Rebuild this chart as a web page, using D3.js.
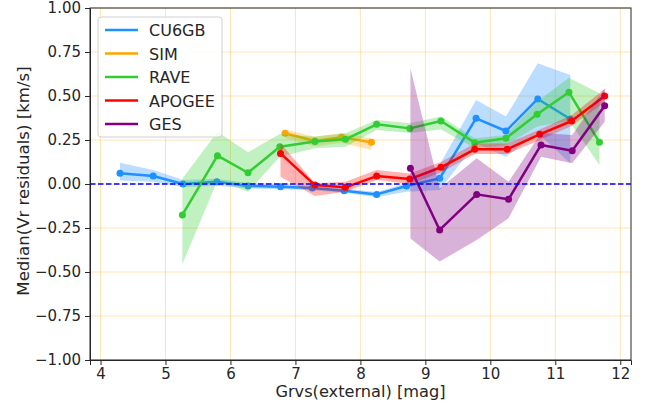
<!DOCTYPE html>
<html>
<head>
<meta charset="utf-8">
<script src="https://cdn.jsdelivr.net/npm/d3@7"></script>
<style>
  body { margin: 0; background: #fff; }
  text { font-family: "DejaVu Sans", sans-serif; fill: #262626; }
  .axis text { font-size: 15px; }
  .axis path, .axis line { stroke: #262626; stroke-width: 1px; }
  .grid line { stroke: #ffa500; stroke-opacity: 0.3; stroke-width: 1px; }
</style>
</head>
<body>
<div id="chart"></div>
<script>
'use strict';

// tick values
var xTicks = [ 4, 5, 6, 7, 8, 9, 10, 11, 12 ];
var yTicks = [ -1, -0.75, -0.5, -0.25, 0, 0.25, 0.5, 0.75, 1 ];

// CU6GB
var cuX   = [ 4.30, 4.81, 5.27, 5.79, 6.27, 6.77, 7.26, 7.75, 8.25, 8.71, 9.22, 9.78, 10.24, 10.73, 11.23 ];
var cuMed = [ 0.061, 0.045, 0.000, 0.013, -0.011, -0.015, -0.023, -0.038, -0.059, -0.011, 0.032, 0.373, 0.301, 0.483, 0.369 ];
var cuLo  = [ 0.020, 0.013, -0.017, -0.010, -0.025, -0.030, -0.035, -0.050, -0.075, -0.044, -0.034, 0.231, 0.155, 0.290, 0.118 ];
var cuHi  = [ 0.121, 0.080, 0.023, 0.030, 0.005, 0.000, -0.010, -0.025, -0.045, 0.004, 0.110, 0.477, 0.383, 0.686, 0.620 ];

// SIM
var simX   = [ 6.84, 7.30, 7.71, 8.17 ];
var simMed = [ 0.288, 0.244, 0.265, 0.237 ];
var simLo  = [ 0.262, 0.215, 0.235, 0.193 ];
var simHi  = [ 0.310, 0.270, 0.290, 0.260 ];

// RAVE
var rvX   = [ 5.26, 5.80, 6.27, 6.76, 7.30, 7.77, 8.25, 8.76, 9.24, 9.76, 10.24, 10.72, 11.21, 11.68 ];
var rvMed = [ -0.176, 0.161, 0.064, 0.212, 0.242, 0.254, 0.339, 0.316, 0.358, 0.235, 0.260, 0.396, 0.521, 0.237 ];
var rvLo  = [ -0.456, 0.020, -0.044, 0.155, 0.203, 0.212, 0.307, 0.290, 0.310, 0.203, 0.222, 0.326, 0.360, 0.108 ];
var rvHi  = [ 0.030, 0.297, 0.180, 0.284, 0.269, 0.288, 0.364, 0.345, 0.383, 0.260, 0.278, 0.468, 0.604, 0.515 ];

// APOGEE
var apX   = [ 6.77, 7.30, 7.77, 8.25, 8.76, 9.24, 9.76, 10.26, 10.76, 11.25, 11.76 ];
var apMed = [ 0.174, -0.006, -0.019, 0.045, 0.028, 0.095, 0.197, 0.197, 0.282, 0.358, 0.500 ];
var apLo  = [ 0.041, -0.068, -0.044, 0.023, 0.000, 0.065, 0.170, 0.170, 0.250, 0.330, 0.465 ];
var apHi  = [ 0.231, 0.004, 0.013, 0.080, 0.060, 0.125, 0.230, 0.230, 0.310, 0.390, 0.540 ];

// GES
var gesX   = [ 8.77, 9.22, 9.79, 10.28, 10.78, 11.26, 11.76 ];
var gesMed = [ 0.089, -0.261, -0.059, -0.087, 0.222, 0.189, 0.445 ];
var gesLo  = [ -0.309, -0.441, -0.318, -0.195, 0.155, 0.118, 0.354 ];
var gesHi  = [ 0.657, -0.025, 0.146, 0.013, 0.290, 0.278, 0.544 ];

var seriesNames  = [ 'CU6GB', 'SIM', 'RAVE', 'APOGEE', 'GES' ];
var seriesColors = [ '#1e90ff', '#ffa500', '#32cd32', '#ff0000', '#800080' ];

function buildSet( xs, med, lo, hi ) {
  return xs.map( function( x, i ) {
    return { x: x, y: med[i], lo: lo[i], hi: hi[i] };
  } );
}

var sets = [
  buildSet( cuX, cuMed, cuLo, cuHi ),
  buildSet( simX, simMed, simLo, simHi ),
  buildSet( rvX, rvMed, rvLo, rvHi ),
  buildSet( apX, apMed, apLo, apHi ),
  buildSet( gesX, gesMed, gesLo, gesHi )
];

var baseWidth = 652,
    baseHeight = 405,
    margin = { top: 8, right: 21, bottom: 45, left: 90 };

var width = baseWidth - margin.left - margin.right,
    height = baseHeight - margin.top - margin.bottom;

var x = d3.scaleLinear()
    .domain( [ 3.838, 12.165 ] )
    .range( [ 0, width ] );

var y = d3.scaleLinear()
    .domain( [ -1, 1 ] )
    .range( [ height, 0 ] );

var svg = d3.select( '#chart' )
  .append( 'svg' )
    .attr( 'width', baseWidth )
    .attr( 'height', baseHeight )
  .append( 'g' )
    .attr( 'transform', 'translate(' + margin.left + ',' + margin.top + ')' );

// grid
var grid = svg.append( 'g' ).classed( 'grid', true );
grid.selectAll( 'line.gx' )
  .data( xTicks )
  .enter().append( 'line' )
    .attr( 'x1', function( d ) { return x( d ); } )
    .attr( 'x2', function( d ) { return x( d ); } )
    .attr( 'y1', 0 )
    .attr( 'y2', height );
grid.selectAll( 'line.gy' )
  .data( yTicks )
  .enter().append( 'line' )
    .attr( 'x1', 0 )
    .attr( 'x2', width )
    .attr( 'y1', function( d ) { return y( d ); } )
    .attr( 'y2', function( d ) { return y( d ); } );

var line = d3.line()
    .x( function( d ) { return x( d.x ); } )
    .y( function( d ) { return y( d.y ); } );

var band = d3.area()
    .x( function( d ) { return x( d.x ); } )
    .y0( function( d ) { return y( d.lo ); } )
    .y1( function( d ) { return y( d.hi ); } );

// bands, lines and markers, one survey after the other
sets.forEach( function( data, i ) {
  var color = seriesColors[i];
  svg.append( 'path' )
    .attr( 'd', band( data ) )
    .attr( 'fill', color )
    .attr( 'fill-opacity', 0.3 )
    .attr( 'stroke', 'none' );

  svg.append( 'path' )
    .attr( 'd', line( data ) )
    .attr( 'fill', 'none' )
    .attr( 'stroke', color )
    .attr( 'stroke-width', 2.5 )
    .attr( 'stroke-linejoin', 'round' );

  svg.selectAll( null )
    .data( data )
    .enter().append( 'circle' )
      .attr( 'cx', function( d ) { return x( d.x ); } )
      .attr( 'cy', function( d ) { return y( d.y ); } )
      .attr( 'r', 3.5 )
      .attr( 'fill', color );
} );

// zero line
svg.append( 'line' )
  .attr( 'x1', 0 )
  .attr( 'x2', width )
  .attr( 'y1', y( 0 ) )
  .attr( 'y2', y( 0 ) )
  .attr( 'stroke', '#0000ff' )
  .attr( 'stroke-width', 1.5 )
  .attr( 'stroke-dasharray', '5.5,2.5' );

// axes
svg.append( 'g' )
  .classed( 'axis axis__x', true )
  .attr( 'transform', 'translate(0,' + height + ')' )
  .call( d3.axisBottom( x )
    .tickValues( xTicks )
    .tickSize( 5 )
    .tickPadding( 3 )
    .tickFormat( d3.format( 'd' ) ) );

svg.append( 'g' )
  .classed( 'axis axis__y', true )
  .call( d3.axisLeft( y )
    .tickValues( yTicks )
    .tickSize( 5 )
    .tickPadding( 4 )
    .tickFormat( d3.format( '.2f' ) ) );

// top and right spines
svg.append( 'rect' )
  .attr( 'width', width )
  .attr( 'height', height )
  .attr( 'fill', 'none' )
  .attr( 'stroke', '#262626' )
  .attr( 'stroke-width', 1 );

// axis labels
svg.append( 'text' )
  .attr( 'text-anchor', 'middle' )
  .attr( 'x', width / 2 )
  .attr( 'y', height + 37 )
  .style( 'font-size', '16.2px' )
  .text( 'Grvs(external) [mag]' );

svg.append( 'text' )
  .attr( 'text-anchor', 'middle' )
  .attr( 'transform', 'translate(' + ( -61 ) + ',' + ( height / 2 - 3 ) + ') rotate(-90)' )
  .style( 'font-size', '16.6px' )
  .text( 'Median(Vr residuals) [km/s]' );

// legend
var legend = svg.append( 'g' )
  .attr( 'transform', 'translate(8,9)' );

legend.append( 'rect' )
  .attr( 'width', 124 )
  .attr( 'height', 120 )
  .attr( 'rx', 3 )
  .attr( 'fill', '#fff' )
  .attr( 'fill-opacity', 0.8 )
  .attr( 'stroke', '#d0d0d0' );

seriesNames.forEach( function( name, i ) {
  var ly = 13 + i * 23.5;
  legend.append( 'line' )
    .attr( 'x1', 7 )
    .attr( 'x2', 40 )
    .attr( 'y1', ly )
    .attr( 'y2', ly )
    .attr( 'stroke', seriesColors[i] )
    .attr( 'stroke-width', 2.5 );
  legend.append( 'text' )
    .attr( 'x', 51 )
    .attr( 'y', ly + 6 )
    .style( 'font-size', '16px' )
    .text( name );
} );
</script>
</body>
</html>
